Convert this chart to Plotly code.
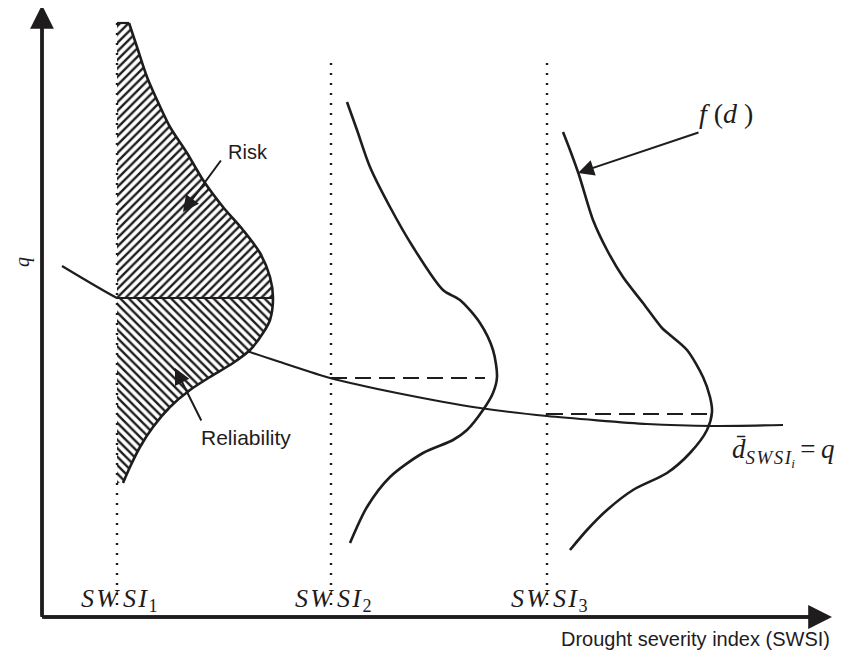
import plotly.graph_objects as go

# ---------------- data (schematic units; origin at axes corner) ----------------
swsi_x = [75, 289, 505]                 # SWSI_1, SWSI_2, SWSI_3 positions
swsi_labels = ["1", "2", "3"]
swsi_top = [594, 555, 555]
swsi_bottom = 12

# demand curve  d_bar_SWSI_i = q
q_x = [20, 75, 141, 208, 238, 288, 355, 438, 505, 605, 671, 741]
q_y = [351, 319, 290, 265, 255, 239, 224, 209, 201, 193, 191, 192]

# f(d) at SWSI_1 (x offsets = density, y = drought level)
f1_x = [87, 95, 105, 115, 128, 145, 161, 181, 201, 218, 228, 231, 228, 221, 208, 191, 168, 148, 128, 111, 98, 88, 81]
f1_y = [594, 570, 540, 517, 490, 464, 437, 410, 387, 364, 340, 319, 297, 284, 267, 254, 240, 227, 210, 190, 170, 150, 134]

# f(d) at SWSI_2
f2_x = [305, 315, 328, 348, 371, 401, 418, 438, 451, 455, 451, 441, 425, 411, 381, 348, 325, 308]
f2_y = [515, 487, 450, 410, 370, 327, 317, 294, 267, 240, 224, 207, 187, 177, 164, 140, 110, 74]

# f(d) at SWSI_3
f3_x = [521, 528, 537, 551, 565, 581, 601, 620, 628, 645, 661, 668, 670, 665, 648, 625, 591, 565, 545, 528]
f3_y = [485, 467, 442, 397, 367, 340, 314, 289, 282, 267, 240, 220, 205, 187, 164, 144, 127, 107, 87, 67]

# mean lines (q at SWSI_i to mode of f(d))
mean_y = [239, 203]
mean_x_end = [443, 667]

INK = "#1e1c1d"
fig = go.Figure()

# demand curve (under the hatch)
fig.add_trace(go.Scatter(x=q_x, y=q_y, mode="lines", line=dict(color=INK, width=2.2, shape="spline", smoothing=0.6),
                         hoverinfo="skip"))

# hatched regions at SWSI_1 split by q
q1 = q_y[1]
top_pts = [(x, y) for x, y in zip(f1_x, f1_y) if y >= q1]
bot_pts = [(x, y) for x, y in zip(f1_x, f1_y) if y <= q1]
risk_x = [swsi_x[0]] + [p[0] for p in top_pts] + [swsi_x[0]]
risk_y = [f1_y[0]] + [p[1] for p in top_pts] + [q1]
rel_x = [swsi_x[0]] + [p[0] for p in bot_pts] + [swsi_x[0]]
rel_y = [q1] + [p[1] for p in bot_pts] + [f1_y[-1]]
fig.add_trace(go.Scatter(x=risk_x, y=risk_y, fill="toself", mode="lines", line=dict(width=0),
                         fillcolor="rgba(0,0,0,0)",
                         fillpattern=dict(shape="/", size=6, solidity=0.4, fgcolor=INK, bgcolor="white", fillmode="replace"),
                         hoverinfo="skip"))
fig.add_trace(go.Scatter(x=rel_x, y=rel_y, fill="toself", mode="lines", line=dict(width=0),
                         fillcolor="rgba(0,0,0,0)",
                         fillpattern=dict(shape="\\", size=6, solidity=0.4, fgcolor=INK, bgcolor="white", fillmode="replace"),
                         hoverinfo="skip"))

# dotted SWSI verticals
for xs, top in zip(swsi_x, swsi_top):
    fig.add_trace(go.Scatter(x=[xs, xs], y=[swsi_bottom, top], mode="lines",
                             line=dict(color=INK, width=2.4, dash="2px,8px"), hoverinfo="skip"))

# dashed mean lines
for k, (my, mx) in enumerate(zip(mean_y, mean_x_end)):
    fig.add_trace(go.Scatter(x=[swsi_x[k + 1], mx], y=[my, my], mode="lines",
                             line=dict(color=INK, width=2.2, dash="16px,8px"), hoverinfo="skip"))

# top edge and split line of hatched region
fig.add_trace(go.Scatter(x=[swsi_x[0], f1_x[0]], y=[f1_y[0], f1_y[0]], mode="lines",
                         line=dict(color=INK, width=2.2), hoverinfo="skip"))
fig.add_trace(go.Scatter(x=[swsi_x[0], f1_x[f1_y.index(q1)]], y=[q1, q1], mode="lines",
                         line=dict(color=INK, width=2.0), hoverinfo="skip"))

# density curves
for cx, cy in [(f1_x, f1_y), (f2_x, f2_y), (f3_x, f3_y)]:
    fig.add_trace(go.Scatter(x=cx, y=cy, mode="lines",
                             line=dict(color=INK, width=2.6, shape="spline", smoothing=0.8), hoverinfo="skip"))

ann = []
# axes arrows
ann.append(dict(x=0, y=612, ax=0, ay=0, xref="x", yref="y", axref="x", ayref="y", text="",
                showarrow=True, arrowhead=2, arrowsize=1.4, arrowwidth=3.4, arrowcolor=INK))
ann.append(dict(x=790, y=0, ax=0, ay=0, xref="x", yref="y", axref="x", ayref="y", text="",
                showarrow=True, arrowhead=2, arrowsize=1.4, arrowwidth=3.4, arrowcolor=INK))

# pointer arrows
arrows = [((180, 458), (141, 405)), ((160, 195), (133, 249)), ((658, 485), (536, 444))]
for (tx, ty), (hx, hy) in arrows:
    ann.append(dict(x=hx, y=hy, ax=tx, ay=ty, xref="x", yref="y", axref="x", ayref="y", text="",
                    showarrow=True, arrowhead=2, arrowsize=1.6, arrowwidth=2.0, arrowcolor=INK))

SANS = "Liberation Sans, Arial, sans-serif"
SERIF = "Liberation Serif, Times New Roman, serif"

ann.append(dict(x=184, y=465, text="Risk", showarrow=False, xanchor="left", yanchor="middle",
                font=dict(family=SANS, size=20, color=INK)))
ann.append(dict(x=157, y=180, text="Reliability", showarrow=False, xanchor="left", yanchor="middle",
                font=dict(family=SANS, size=21, color=INK)))
ann.append(dict(x=790, y=-22, text="Drought severity index (SWSI)", showarrow=False, xanchor="right",
                yanchor="middle", font=dict(family=SANS, size=20, color=INK)))
ann.append(dict(x=-20, y=355, text="<i>q</i>", showarrow=False, textangle=-90, xanchor="center",
                yanchor="middle", font=dict(family=SERIF, size=20, color=INK)))
ann.append(dict(x=684, y=504, text="<i>f</i> (<i>d</i> )", showarrow=False, xanchor="center",
                yanchor="middle", font=dict(family=SERIF, size=28, color=INK)))
ann.append(dict(x=688, y=165,
                text="<i>d\u0304<sub>S\u200aW\u200aS\u200aI<sub>i</sub></sub></i>\u2009=\u2009<i>q</i>",
                showarrow=False, xanchor="left", yanchor="middle",
                font=dict(family=SERIF, size=27, color=INK)))
for xs, lab in zip(swsi_x, swsi_labels):
    ann.append(dict(x=xs + 2, y=17, text="<i>S\u200aW\u2009S\u200aI</i><sub>\u200a" + lab + "</sub>", showarrow=False,
                    xanchor="center", yanchor="middle", font=dict(family=SERIF, size=26, color=INK)))

# axis lines
fig.add_shape(type="line", x0=0, y0=0, x1=0, y1=600, xref="x", yref="y", line=dict(color=INK, width=3.4))
fig.add_shape(type="line", x0=0, y0=0, x1=780, y1=0, xref="x", yref="y", line=dict(color=INK, width=3.4))

# page has an 8px body margin: size the figure to the remaining area and keep 1 unit = 1 px
fig.update_layout(
    width=837, height=642, margin=dict(l=0, r=0, t=0, b=0),
    paper_bgcolor="white", plot_bgcolor="white", showlegend=False,
    xaxis=dict(range=[-34, 803], visible=False, fixedrange=True),
    yaxis=dict(range=[-33, 609], visible=False, fixedrange=True),
    annotations=ann,
)
fig.write_html("out.html")
